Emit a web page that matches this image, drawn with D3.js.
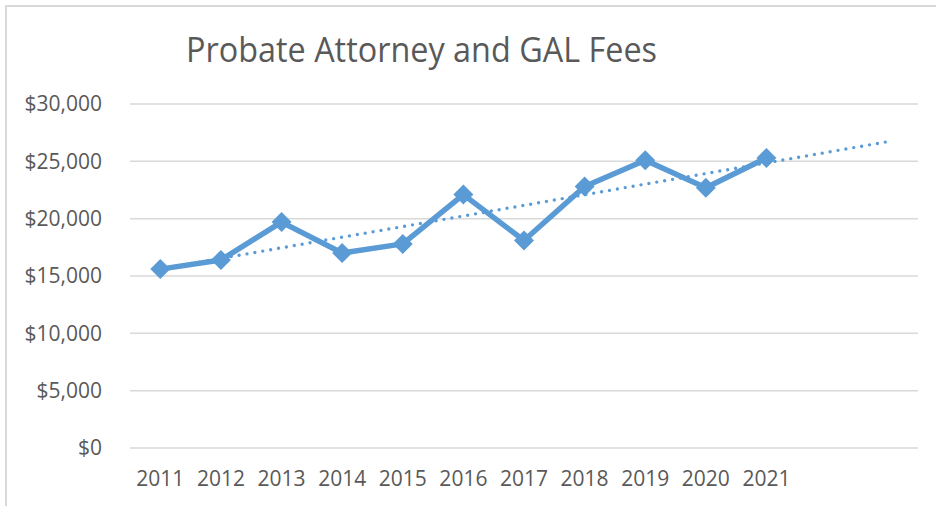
<!DOCTYPE html>
<html>
<head>
<meta charset="utf-8">
<script src="https://cdn.jsdelivr.net/npm/d3@7"></script>
<style>
  body { margin: 0; background: #fff; }
  text { font-family: "Open Sans", sans-serif; fill: #595959; }
</style>
</head>
<body>
<div id="chart"></div>
<script>
// chart size, same as the browser window
const svgWidth = 936;
const svgHeight = 506;
const margin = { top: 104, right: 18, bottom: 58, left: 130 };
const width = svgWidth - margin.left - margin.right;
const height = svgHeight - margin.top - margin.bottom;

// data
const years = ["2011", "2012", "2013", "2014", "2015", "2016", "2017", "2018", "2019", "2020", "2021"];
const fees = [15600, 16400, 19700, 17000, 17800, 22100, 18100, 22800, 25100, 22700, 25300];
// excel trendline goes forward 2 periods, so the axis has 2 empty slots
const forwardSlots = ["f1", "f2"];
const yTicks = [0, 5000, 10000, 15000, 20000, 25000, 30000];

const blue = "#5B9BD5";
const gridColor = "#D9D9D9";

const svg = d3.select("#chart")
    .append("svg")
    .attr("width", svgWidth)
    .attr("height", svgHeight);

// chart frame, only top and left edges show in the picture
svg.append("rect")
    .attr("x", 6)
    .attr("y", 6)
    .attr("width", svgWidth + 20)
    .attr("height", svgHeight + 20)
    .attr("fill", "none")
    .attr("stroke", gridColor)
    .attr("stroke-width", 2);

const g = svg.append("g")
    .attr("transform", `translate(${margin.left},${margin.top})`);

const x = d3.scaleBand()
    .domain(years.concat(forwardSlots))
    .range([0, width]);

const y = d3.scaleLinear()
    .domain([0, 30000])
    .range([height, 0]);

const cx = d => x(d) + x.bandwidth() / 2;

// gridlines
g.append("g")
    .selectAll("line")
    .data(yTicks)
    .enter()
    .append("line")
    .attr("x1", 0)
    .attr("x2", width)
    .attr("y1", d => y(d))
    .attr("y2", d => y(d))
    .attr("stroke", gridColor)
    .attr("stroke-width", 1.5);

// y axis labels
const fmt = d3.format("$,");
const yAxis = g.append("g")
    .call(d3.axisLeft(y).tickValues(yTicks).tickFormat(fmt).tickSize(0).tickPadding(28));
yAxis.select(".domain").remove();
yAxis.selectAll("text")
    .attr("font-size", "21px")
    .attr("font-family", "Open Sans, sans-serif")
    .attr("fill", "#595959");

// x axis labels, only the real years
const xAxis = g.append("g")
    .attr("transform", `translate(0,${height})`)
    .call(d3.axisBottom(x).tickValues(years).tickSize(0).tickPadding(23));
xAxis.select(".domain").remove();
xAxis.selectAll("text")
    .attr("font-size", "21px")
    .attr("font-family", "Open Sans, sans-serif")
    .attr("fill", "#595959");

// linear trendline like excel: least squares on index 1..n
const n = fees.length;
const idx = d3.range(1, n + 1);
const mx = d3.mean(idx);
const my = d3.mean(fees);
const slope = d3.sum(idx, (i, k) => (i - mx) * (fees[k] - my)) / d3.sum(idx, i => (i - mx) * (i - mx));
const intercept = my - slope * mx;
const allSlots = x.domain();
const trendPts = [
    [cx(allSlots[0]), y(intercept + slope * 1)],
    [cx(allSlots[allSlots.length - 1]), y(intercept + slope * allSlots.length)]
];

g.append("path")
    .attr("d", d3.line()(trendPts))
    .attr("fill", "none")
    .attr("stroke", blue)
    .attr("stroke-width", 3.4)
    .attr("stroke-linecap", "round")
    .attr("stroke-dasharray", "0 8");

// main line
const line = d3.line()
    .x((d, i) => cx(years[i]))
    .y(d => y(d));

g.append("path")
    .datum(fees)
    .attr("d", line)
    .attr("fill", "none")
    .attr("stroke", blue)
    .attr("stroke-width", 5.5)
    .attr("stroke-linejoin", "round");

// diamond markers (square turned 45 degrees)
g.append("g")
    .selectAll("path")
    .data(fees)
    .enter()
    .append("path")
    .attr("d", d3.symbol().type(d3.symbolSquare).size(200))
    .attr("transform", (d, i) => `translate(${cx(years[i])},${y(d)}) rotate(45)`)
    .attr("fill", blue);

// title
const title = svg.append("text")
    .text("Probate Attorney and GAL Fees")
    .attr("x", 186)
    .attr("y", 62)
    .attr("font-size", "35px");
// squeeze to the width it has in the picture (calibri is narrower)
const tw = title.node().getComputedTextLength();
if (tw > 471) {
    title.attr("textLength", 471).attr("lengthAdjust", "spacingAndGlyphs");
}
</script>
</body>
</html>
